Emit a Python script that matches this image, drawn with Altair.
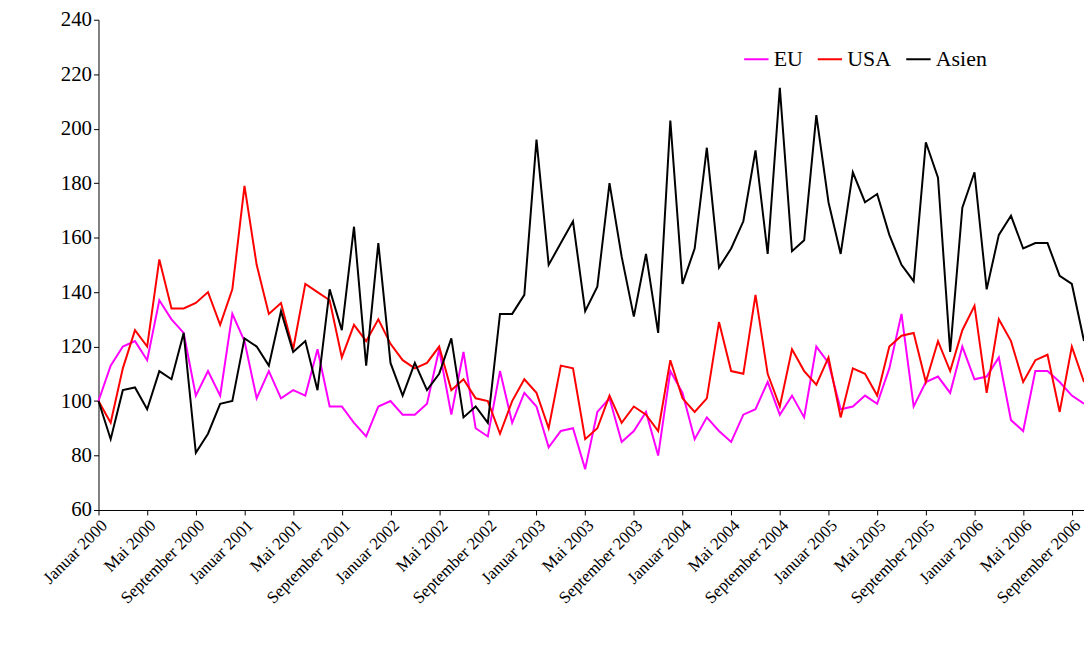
import altair as alt
import pandas as pd

months_de = ["Januar", "Februar", "März", "April", "Mai", "Juni", "Juli",
             "August", "September", "Oktober", "November", "Dezember"]
labels = [f"{m} {y}" for y in range(2000, 2007) for m in months_de]

eu = [100, 113, 120, 122, 115, 137, 130, 125, 102, 111, 102, 132, 122, 101, 111, 101,
      104, 102, 119, 98, 98, 92, 87, 98, 100, 95, 95, 99, 119, 95, 118, 90,
      87, 111, 92, 103, 98, 83, 89, 90, 75, 96, 101, 85, 89, 96, 80, 111,
      103, 86, 94, 89, 85, 95, 97, 107, 95, 102, 94, 120, 114, 97, 98, 102,
      99, 112, 132, 98, 107, 109, 103, 120, 108, 109, 116, 93, 89, 111, 111, 107,
      102, 99]
usa = [100, 92, 112, 126, 120, 152, 134, 134, 136, 140, 128, 141, 179, 150, 132, 136,
       119, 143, 140, 137, 116, 128, 122, 130, 121, 115, 112, 114, 120, 104, 108, 101,
       100, 88, 100, 108, 103, 90, 113, 112, 86, 90, 102, 92, 98, 95, 89, 115,
       101, 96, 101, 129, 111, 110, 139, 110, 98, 119, 111, 106, 116, 94, 112, 110,
       102, 120, 124, 125, 107, 122, 111, 126, 135, 103, 130, 122, 107, 115, 117,
       96, 120, 107]
asien = [100, 86, 104, 105, 97, 111, 108, 125, 81, 88, 99, 100, 123, 120, 113, 133,
         118, 122, 104, 141, 126, 164, 113, 158, 114, 102, 114, 104, 110, 123, 94, 98,
         92, 132, 132, 139, 196, 150, 158, 166, 133, 142, 180, 153, 131, 154, 125, 203,
         143, 156, 193, 149, 156, 166, 192, 154, 215, 155, 159, 205, 173, 154, 184, 173,
         176, 161, 150, 144, 195, 182, 118, 171, 184, 141, 161, 168, 156, 158, 158,
         146, 143, 122]

n = min(len(eu), len(usa), len(asien))
rows = []
for name, vals in [("EU", eu), ("USA", usa), ("Asien", asien)]:
    for i in range(n):
        rows.append({"Monat": labels[i], "Serie": name, "Wert": vals[i]})
df = pd.DataFrame(rows)

font = "Liberation Serif"
chart = (
    alt.Chart(df)
    .mark_line(strokeWidth=2)
    .encode(
        x=alt.X("Monat:O", sort=labels[:n], title=None,
                scale=alt.Scale(type="point", padding=0),
                axis=alt.Axis(values=labels[:n:4], labelAngle=-45, labelFont=font,
                              labelFontSize=17, labelColor="black", domainColor="black",
                              tickColor="black", labelAlign="right", labelBaseline="top")),
        y=alt.Y("Wert:Q", title=None, scale=alt.Scale(domain=[60, 240], nice=False),
                axis=alt.Axis(values=list(range(60, 241, 20)), grid=False, labelFont=font,
                              labelFontSize=21, labelColor="black", domainColor="black",
                              tickColor="black")),
        color=alt.Color("Serie:N", sort=["EU", "USA", "Asien"], title=None,
                        scale=alt.Scale(domain=["EU", "USA", "Asien"],
                                        range=["#ff00ff", "#ff0000", "#000000"]),
                        legend=alt.Legend(orient="none", legendX=648, legendY=26,
                                          direction="horizontal", symbolType="stroke",
                                          symbolStrokeWidth=2, symbolSize=600,
                                          labelFont=font, labelFontSize=22,
                                          labelColor="black", columnPadding=10)),
    )
    .properties(width=991, height=493, autosize="none",
                padding={"left": 91, "top": 10, "right": 0, "bottom": 140})
    .configure_view(stroke=None)
)

chart.save("out.html", embed_options={"renderer": "svg", "actions": False})
